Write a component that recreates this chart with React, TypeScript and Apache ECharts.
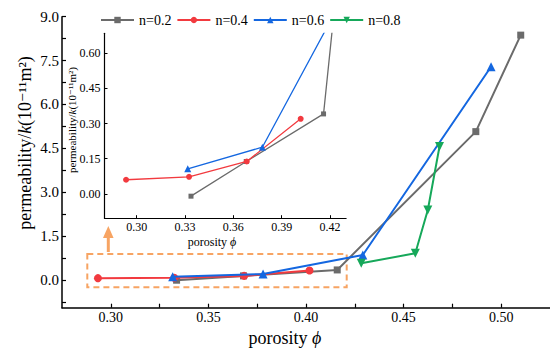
import React, { useEffect, useRef } from 'react';
import * as echarts from 'echarts';

const seriesNames = ['n=0.2', 'n=0.4', 'n=0.6', 'n=0.8'];
const porosity02 = [0.3337, 0.368, 0.416, 0.487, 0.510];
const perm02 = [-0.01, 0.138, 0.341, 5.07, 8.37];
const porosity04 = [0.2934, 0.3325, 0.3683, 0.4018];
const perm04 = [0.060, 0.0725, 0.138, 0.320];
const porosity06 = [0.3317, 0.378, 0.4291, 0.4948];
const perm06 = [0.107, 0.199, 0.85, 7.29];
const porosity08 = [0.4283, 0.456, 0.4624, 0.4684];
const perm08 = [0.57, 0.91, 2.39, 4.56];

const mainYLabels = [0, 1.5, 3, 4.5, 6, 7.5, 9];
const mainYTicks = [-0.75, 0, 0.75, 1.5, 2.25, 3, 3.75, 4.5, 5.25, 6, 6.75, 7.5, 8.25, 9];
const mainXLabels = [0.3, 0.35, 0.4, 0.45, 0.5];
const mainXTicks = [0.3, 0.325, 0.35, 0.375, 0.4, 0.425, 0.45, 0.475, 0.5];
const insetYLabels = [0, 0.15, 0.3, 0.45, 0.6];
const insetXLabels = [0.3, 0.33, 0.36, 0.39, 0.42];

const FONT = "'Liberation Serif', 'Times New Roman', 'DejaVu Serif', serif";
const COLORS = ['#6b6b6b', '#f23a3f', '#1467e0', '#16a85a'];
const SYMBOLS = ['rect', 'circle', 'triangle', 'triangle'];
const ROTATES = [0, 0, 0, 180];
const MAIN_SIZES = [7, 8, 9, 9];
const INSET_SIZES = [5, 6, 7, 7];
const ORANGE = '#f7a463';

const allX = [porosity02, porosity04, porosity06, porosity08];
const allY = [perm02, perm04, perm06, perm08];

function zip(xs: number[], ys: number[]) {
  return xs.map((x, i) => [x, ys[i]]);
}

export default function App() {
  const ref = useRef<HTMLDivElement>(null);
  useEffect(() => {
    if (!ref.current) return;
    const chart = echarts.init(ref.current, undefined, { renderer: 'svg' });

    const axisLine = { show: true, onZero: false, lineStyle: { color: '#000', width: 1.5 } };

    const mainSeries = seriesNames.map((name, i) => ({
      type: 'line',
      name,
      xAxisIndex: 0,
      yAxisIndex: 0,
      data: zip(allX[i], allY[i]),
      symbol: SYMBOLS[i],
      symbolSize: MAIN_SIZES[i],
      symbolRotate: ROTATES[i],
      lineStyle: { width: 2, color: COLORS[i] },
      itemStyle: { color: COLORS[i] },
      z: 3 + i,
    }));
    const insetSeries = [0, 1, 2].map((i) => ({
      type: 'line',
      name: seriesNames[i],
      xAxisIndex: 1,
      yAxisIndex: 1,
      data: zip(allX[i], allY[i]),
      symbol: SYMBOLS[i],
      symbolSize: INSET_SIZES[i],
      symbolRotate: ROTATES[i],
      lineStyle: { width: 1.3, color: COLORS[i] },
      itemStyle: { color: COLORS[i] },
      clip: true,
      z: 3 + i,
    }));

    const option: any = {
      animation: false,
      backgroundColor: '#fff',
      textStyle: { fontFamily: FONT },
      legend: {
        data: seriesNames,
        left: 95,
        top: 8,
        itemWidth: 33,
        itemHeight: 8,
        itemGap: 5,
        textStyle: { fontFamily: FONT, fontSize: 14, color: '#000' },
      },
      grid: [
        { left: 62, top: 16.7, right: 0, height: 291 },
        { left: 104.5, top: 33.3, width: 241.6, height: 184.9 },
      ],
      xAxis: [
        {
          type: 'value', gridIndex: 0, min: 0.275, max: 0.525,
          axisLine,
          axisTick: { show: true, inside: true, length: 4, customValues: mainXTicks, lineStyle: { color: '#000', width: 1.2 } },
          axisLabel: { customValues: mainXLabels, formatter: (v: number) => v.toFixed(2), fontFamily: FONT, fontSize: 14, color: '#000', margin: 3 },
          splitLine: { show: false },
        },
        {
          type: 'value', gridIndex: 1, min: 0.28, max: 0.43,
          axisLine: { show: true, onZero: false, lineStyle: { color: '#000', width: 1.2 } },
          axisTick: { show: true, inside: true, length: 3, customValues: insetXLabels, lineStyle: { color: '#000', width: 1 } },
          axisLabel: { customValues: insetXLabels, formatter: (v: number) => v.toFixed(2), fontFamily: FONT, fontSize: 12, color: '#000', margin: 3 },
          splitLine: { show: false },
        },
      ],
      yAxis: [
        {
          type: 'value', gridIndex: 0, min: -0.95, max: 9,
          axisLine,
          axisTick: { show: true, inside: true, length: 4, customValues: mainYTicks, lineStyle: { color: '#000', width: 1.2 } },
          axisLabel: { customValues: mainYLabels, formatter: (v: number) => v.toFixed(1), fontFamily: FONT, fontSize: 15, color: '#000', margin: 3 },
          splitLine: { show: false },
        },
        {
          type: 'value', gridIndex: 1, min: -0.104, max: 0.685,
          axisLine: { show: true, onZero: false, lineStyle: { color: '#000', width: 1.2 } },
          axisTick: { show: true, inside: true, length: 3, customValues: insetYLabels, lineStyle: { color: '#000', width: 1 } },
          axisLabel: { customValues: insetYLabels, formatter: (v: number) => v.toFixed(2), fontFamily: FONT, fontSize: 12, color: '#000', margin: 4 },
          splitLine: { show: false },
        },
      ],
      series: [...mainSeries, ...insetSeries],
      graphic: [
        {
          type: 'text', x: 285, y: 338,
          style: {
            text: 'porosity {i|ϕ}', fontFamily: FONT, fontSize: 18, fill: '#000',
            align: 'center', verticalAlign: 'middle',
            rich: { i: { fontFamily: FONT, fontSize: 18, fontStyle: 'italic', fill: '#000' } },
          },
        },
        {
          type: 'text', x: 25, y: 143, rotation: Math.PI / 2,
          style: {
            text: 'permeability/{i|k}(10⁻¹¹m²)', fontFamily: FONT, fontSize: 18, fill: '#000',
            align: 'center', verticalAlign: 'middle',
            rich: { i: { fontFamily: FONT, fontSize: 18, fontStyle: 'italic', fill: '#000' } },
          },
        },
        {
          type: 'text', x: 212, y: 242,
          style: {
            text: 'porosity {i|ϕ}', fontFamily: FONT, fontSize: 12, fill: '#000',
            align: 'center', verticalAlign: 'middle',
            rich: { i: { fontFamily: FONT, fontSize: 12, fontStyle: 'italic', fill: '#000' } },
          },
        },
        {
          type: 'text', x: 72, y: 120, rotation: Math.PI / 2,
          style: {
            text: 'permeability/{i|k}(10⁻¹¹m²)', fontFamily: FONT, fontSize: 11, fill: '#000',
            align: 'center', verticalAlign: 'middle',
            rich: { i: { fontFamily: FONT, fontSize: 11, fontStyle: 'italic', fill: '#000' } },
          },
        },
        {
          type: 'rect', shape: { x: 87.3, y: 254, width: 259.4, height: 33.3 },
          style: { fill: 'none', stroke: ORANGE, lineWidth: 2, lineDash: [6, 4] },
          z: 1,
        },
        {
          type: 'line', shape: { x1: 108.3, y1: 252, x2: 108.3, y2: 236 },
          style: { stroke: ORANGE, lineWidth: 3 },
        },
        {
          type: 'polygon', shape: { points: [[103, 238], [113.6, 238], [108.3, 226]] },
          style: { fill: ORANGE },
        },
      ],
    };
    chart.setOption(option);
    return () => chart.dispose();
  }, []);
  return <div ref={ref} style={{ position: 'fixed', left: 0, top: 0, width: 550, height: 356 }} />;
}
